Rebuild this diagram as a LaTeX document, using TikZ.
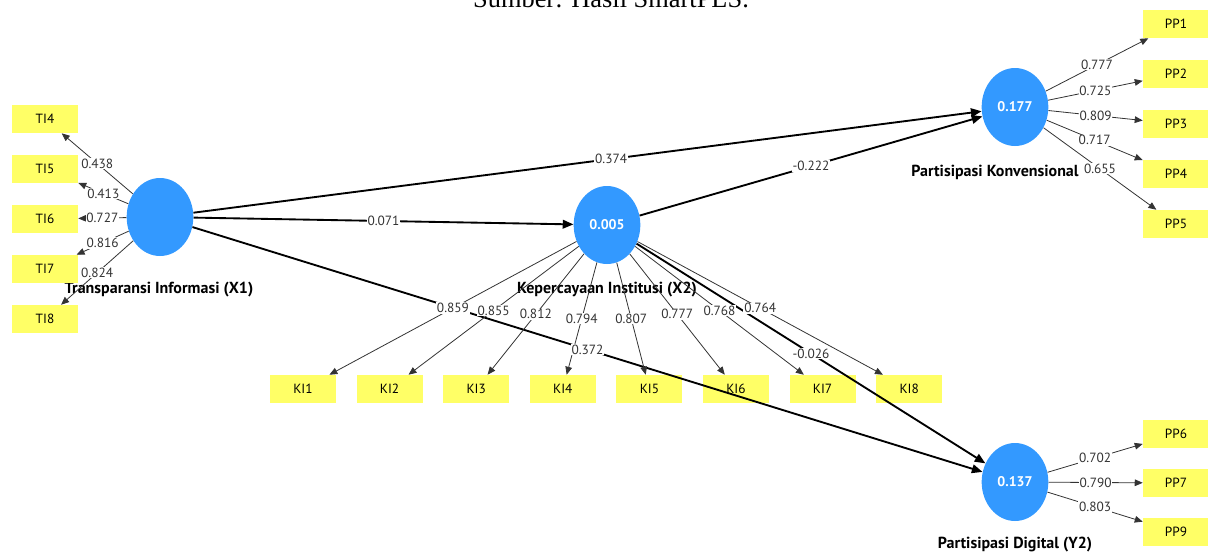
\documentclass[tikz,border=0pt]{standalone}
\usepackage{fontspec}
\setmainfont{PT Sans}
\newfontfamily\capfont{Liberation Serif}
\usetikzlibrary{shapes,arrows.meta,calc}
\definecolor{lvblue}{RGB}{51,153,255}
\definecolor{mvyellow}{RGB}{255,255,102}
\definecolor{coefgray}{RGB}{51,51,51}

\begin{document}
\begin{tikzpicture}
  [
    x=0.75pt, y=-0.75pt,
    latent/.style =
      {ellipse, fill=lvblue, text=white, inner sep=0pt, minimum width=50pt,
       minimum height=58.5pt, font=\fontsize{10.5}{12}\selectfont\bfseries},
    item/.style =
      {rectangle, fill=mvyellow, inner sep=0pt, minimum width=49.5pt,
       minimum height=21pt, font=\fontsize{10}{12}\selectfont},
    cname/.style =
      {font=\fontsize{12}{14}\selectfont\bfseries, inner sep=0pt},
    coef/.style =
      {fill=white, inner sep=0.6pt, text=coefgray, font=\fontsize{10}{12}\selectfont},
    sarrow/.style =
      {-{Triangle[length=8pt,width=6.5pt]}, line width=1.4pt},
    larrow/.style =
      {-{Triangle[length=6pt,width=5pt]}, line width=0.6pt, black!80}
  ]

\useasboundingbox (0,0) rectangle (1208,554);

\node[font=\capfont\fontsize{19.8}{22}\selectfont, anchor=base] (src) at (611,7)
  {Sumber: Hasil SmartPLS.};

% latent variables
\node[latent] (X1) at (160,217) {};
\node[latent] (X2) at (607,225) {0.005};
\node[latent] (Y1) at (1015,107) {0.177};
\node[latent] (Y2) at (1015,482) {0.137};

\node[cname] (X1n) at (159,290) {Transparansi Informasi (X1)};
\node[cname] (X2n) at (607,290) {Kepercayaan Institusi (X2)};
\node[cname] (Y1n) at (995,172) {Partisipasi Konvensional};
\node[cname] (Y2n) at (1015,545) {Partisipasi Digital (Y2)};

% indicators
\foreach \i [count=\k from 0] in {4,...,8}
  \node[item] (TI\i) at (45,119+50*\k) {TI\i};
\foreach \i in {1,...,8}
  \node[item] (KI\i) at (303+86.6*\i-86.6,389) {KI\i};
\foreach \i [count=\k from 0] in {1,...,5}
  \node[item] (PP\i) at (1176,24+50*\k) {PP\i};
\foreach \i [count=\k from 0] in {6,7,9}
  \node[item] (PP\i) at (1176,434+49*\k) {PP\i};

% inner model
\draw[sarrow] (X1) -- (Y1);
\draw[sarrow] (X1) -- (X2);
\draw[sarrow] (X1) -- (Y2);
\draw[sarrow] (X2) -- (Y1);
\draw[sarrow] (X2) -- (Y2);

% outer model
\foreach \i in {4,...,8}
  \draw[larrow] (X1) -- (TI\i);
\foreach \i in {1,...,8}
  \draw[larrow] (X2) -- (KI\i);
\foreach \i in {1,...,5}
  \draw[larrow] (Y1) -- (PP\i);
\foreach \i in {6,7,9}
  \draw[larrow] (Y2) -- (PP\i);

% coefficients
\path (X1) -- (Y1) node[coef, pos=0.53] {0.374};
\path (X1) -- (X2) node[coef, midway] {0.071};
\path (X1) -- (Y2) node[coef, midway] {0.372};
\path (X2) -- (Y1) node[coef, midway] {-0.222};
\path (X2) -- (Y2) node[coef, midway] {-0.026};

\foreach \i/\v in {4/0.438,5/0.413,6/0.727,7/0.816,8/0.824}
  \path (X1) -- (TI\i) node[coef, midway] {\v};
\foreach \i/\v in {1/0.859,2/0.855,3/0.812,4/0.794,5/0.807,6/0.777,7/0.768,8/0.764}
  \path (X2) -- (KI\i) node[coef, midway] {\v};
\foreach \i/\v in {1/0.777,2/0.725,3/0.809,4/0.717,5/0.655}
  \path (Y1) -- (PP\i) node[coef, midway] {\v};
\foreach \i/\v in {6/0.702,7/0.790,9/0.803}
  \path (Y2) -- (PP\i) node[coef, midway] {\v};

\end{tikzpicture}
\end{document}
